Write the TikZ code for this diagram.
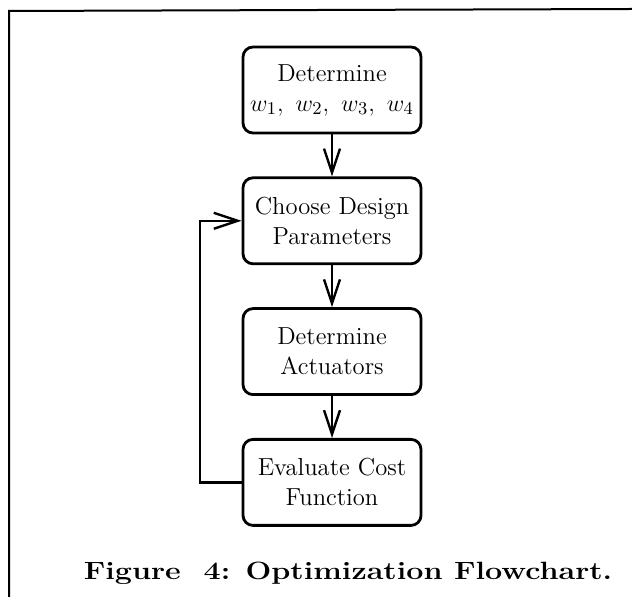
\documentclass[tikz,border=0pt]{standalone}
\usepackage{amsmath,amssymb}
\usepackage{tikz}
\usetikzlibrary{arrows.meta,positioning}

\tikzset{
  stepbox/.style={draw,line width=1.4pt,rounded corners=5pt,minimum width=89pt,minimum height=43pt,align=center,font=\fontsize{12.3}{15}\selectfont,inner sep=2pt},
  flow/.style={line width=1.2pt,-{Straight Barb[length=12pt,width=8pt,line width=1.2pt]}}
}

\begin{document}
\begin{tikzpicture}[x=0.5pt,y=-0.5pt]
\useasboundingbox (0,0) rectangle (632,597);
\draw[line width=1pt] (9,597) -- (9,11) -- (632,9);
\node[stepbox] (det) at (332,90) {Determine\\$w_1,\ w_2,\ w_3,\ w_4$};
\node[stepbox,below=21pt of det] (choose) {Choose Design\\Parameters};
\node[stepbox,below=21pt of choose] (act) {Determine\\Actuators};
\node[stepbox,below=21pt of act] (cost) {Evaluate Cost\\Function};
\draw[flow] (det) -- (choose);
\draw[flow] (choose) -- (act);
\draw[flow] (act) -- (cost);
\coordinate (back) at (200,0);
\draw[flow] (cost.west) -- (cost.west -| back) -- (choose.west -| back) -- (choose.west);
\node[anchor=base,font=\fontsize{12.5}{15}\selectfont\bfseries] (cap) at (348,580) {\scalebox{1.22}[1]{Figure\ \ 4: Optimization Flowchart.}};
\end{tikzpicture}
\end{document}
